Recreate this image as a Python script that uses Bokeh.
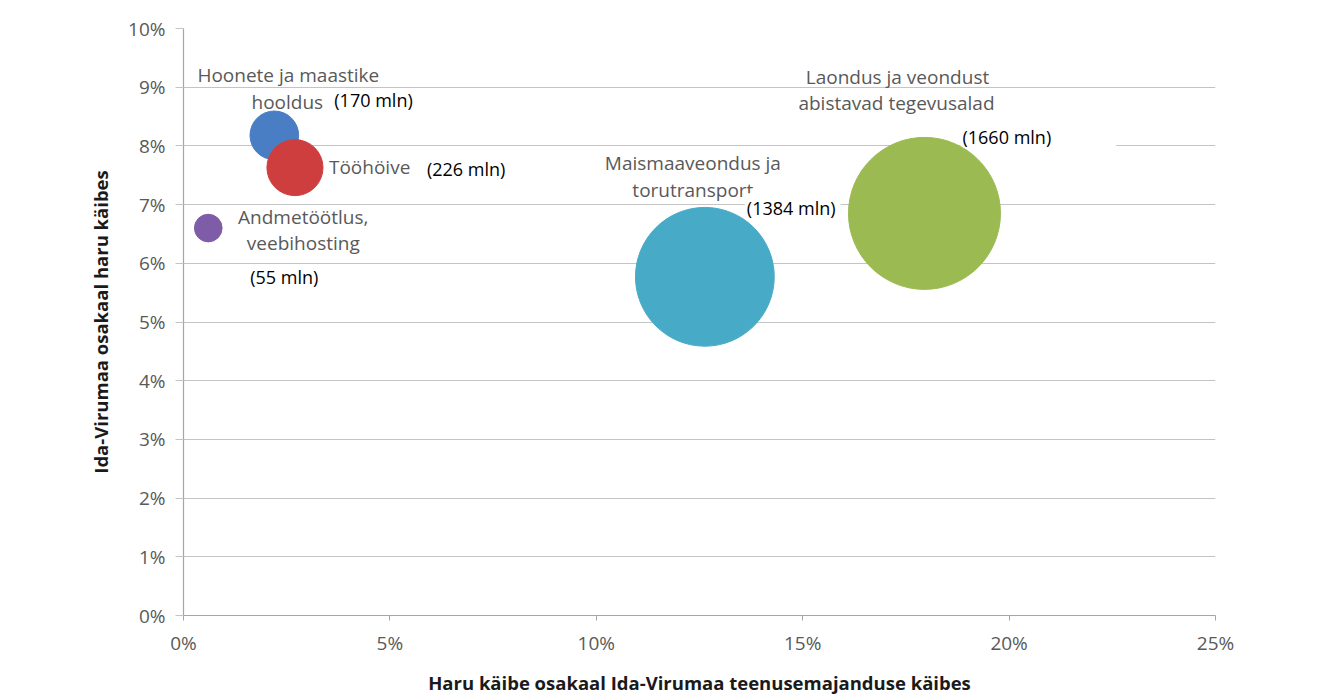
import numpy as np
from bokeh.plotting import figure
from bokeh.models import ColumnDataSource, Range1d, FixedTicker, PrintfTickFormatter
from bokeh.core.properties import value
from bokeh.embed import file_html
from bokeh.resources import INLINE

# ---- data ----
names = ["Hoonete ja maastike hooldus", "Tööhöive", "Andmetöötlus, veebihosting",
         "Maismaaveondus ja torutransport", "Laondus ja veondust abistavad tegevusalad"]
share_of_services = [2.2, 2.7, 0.6, 12.63, 17.95]     # x, %
ida_viru_share = [8.18, 7.63, 6.6, 5.77, 6.85]        # y, %
turnover_mln = [170, 226, 55, 1384, 1660]             # bubble size
turnover_labels = ["(170 mln)", "(226 mln)", "(55 mln)", "(1384 mln)", "(1660 mln)"]
label_lines = [["Hoonete ja maastike", "hooldus"], ["Tööhöive"],
               ["Andmetöötlus,", "veebihosting"], ["Maismaaveondus ja", "torutransport"],
               ["Laondus ja veondust", "abistavad tegevusalad"]]
colors = ["#4a7ec4", "#cf3e3e", "#7f5ca8", "#47abc8", "#9bbb52"]
x_ticks = [0, 5, 10, 15, 20, 25]
y_ticks = list(range(0, 11))

# ---- styling: label placement offsets (pixels) relative to bubble centre ----
line_offsets = [[(14, -60, "center"), (13, -33, "center")],
                [(34, -1, "left")],
                [(95, -11, "center"), (95, 15, "center")],
                [(-12, -114, "center"), (-12, -87, "center")],
                [(-27, -136, "center"), (-28, -110, "center")]]
mln_offsets = [(58, -33), (130, 1), (40, 51), (40, -69), (36, -77)]
mln_padding = [(2, 5, 0, 4), (2, 5, 3, 3), (2, 5, 0, 4), (2, 5, 3, 2), (2, 65, 3, 2)]

FONT = "Open Sans"
GRAY = "#595959"

p = figure(width=1338, height=697, output_backend="svg", toolbar_location=None,
           x_range=Range1d(0, 25), y_range=Range1d(0, 10),
           min_border_left=183, min_border_right=123, min_border_top=28,
           min_border_bottom=80)
p.outline_line_color = None
p.background_fill_color = "white"
p.border_fill_color = "white"

# grid
p.xgrid.grid_line_color = None
p.ygrid.grid_line_color = "#c4c4c4"
p.ygrid.grid_line_width = 1.2
p.ygrid.ticker = FixedTicker(ticks=y_ticks)

# axes
for ax in (p.xaxis[0], p.yaxis[0]):
    ax.axis_line_color = "#a6a6a6"
    ax.axis_line_width = 1.2
    ax.major_tick_line_color = "#a6a6a6"
    ax.minor_tick_line_color = None
    ax.major_tick_in = 0
    ax.major_label_text_color = GRAY
    ax.major_label_text_font = FONT
    ax.major_label_text_font_size = "19px"
    ax.axis_label_text_font = FONT
    ax.axis_label_text_font_style = "bold"
    ax.axis_label_text_font_size = "18.5px"
    ax.axis_label_text_color = "#1a1a1a"

p.xaxis.ticker = FixedTicker(ticks=x_ticks)
p.xaxis.formatter = PrintfTickFormatter(format="%d%%")
p.xaxis.major_tick_out = 5
p.xaxis.major_label_standoff = 9
p.xaxis.axis_label = "Haru käibe osakaal Ida-Virumaa teenusemajanduse käibes"
p.xaxis.axis_label_standoff = 11

p.yaxis.ticker = FixedTicker(ticks=y_ticks)
p.yaxis.formatter = PrintfTickFormatter(format="%d%%")
p.yaxis.major_tick_out = 8
p.yaxis.major_tick_line_color = "#c4c4c4"
p.yaxis.major_label_standoff = 10
p.yaxis.axis_label = "Ida-Virumaa osakaal haru käibes"
p.yaxis.axis_label_standoff = 12

# category labels
for i, lines in enumerate(label_lines):
    for txt, (dx, dy, align) in zip(lines, line_offsets[i]):
        p.text(x=[share_of_services[i]], y=[ida_viru_share[i]], text=[txt],
               x_offset=dx, y_offset=dy, text_align=align, text_baseline="middle",
               text_font=value(FONT), text_font_size="19px", text_color=GRAY)

# turnover labels (white boxes)
for i, txt in enumerate(turnover_labels):
    dx, dy = mln_offsets[i]
    p.text(x=[share_of_services[i]], y=[ida_viru_share[i]], text=[txt],
           x_offset=dx, y_offset=dy, text_align="left", text_baseline="middle",
           text_font=value(FONT), text_font_size="18px", text_color="black",
           background_fill_color="white", padding=mln_padding[i])

# bubbles: area proportional to turnover (largest bubble ~152 px across)
scale = 152 / np.sqrt(max(turnover_mln))
sizes = [scale * np.sqrt(v) for v in turnover_mln]
src = ColumnDataSource(dict(x=share_of_services, y=ida_viru_share, size=sizes, color=colors))
p.scatter("x", "y", size="size", fill_color="color", line_color="color", line_width=1,
          fill_alpha=1.0, source=src)

open("out.html", "w").write(file_html(p, INLINE))
